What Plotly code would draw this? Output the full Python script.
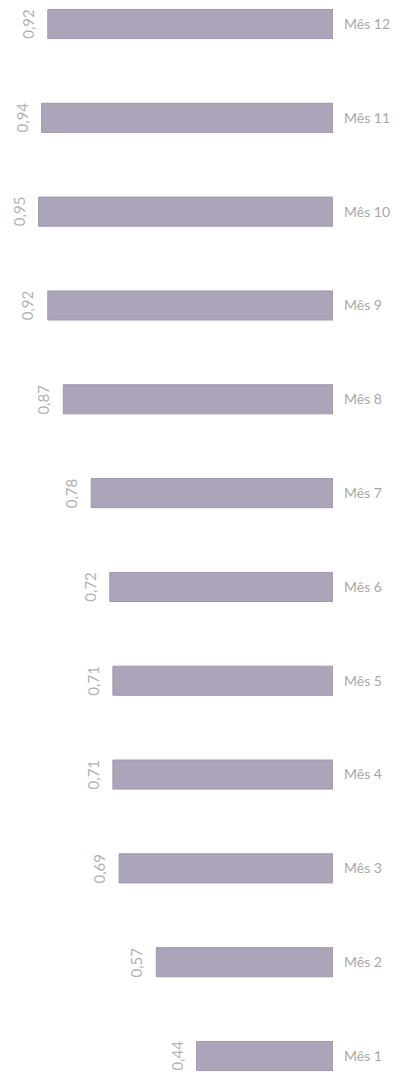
import plotly.graph_objects as go

# Monthly index values
months = ["Mês 1", "Mês 2", "Mês 3", "Mês 4", "Mês 5", "Mês 6",
          "Mês 7", "Mês 8", "Mês 9", "Mês 10", "Mês 11", "Mês 12"]
values = [0.44, 0.57, 0.69, 0.71, 0.71, 0.72, 0.78, 0.87, 0.92, 0.95, 0.94, 0.92]
value_labels = [f"{v:.2f}".replace(".", ",") for v in values]

BAR_COLOR = "#aca4b9"
TEXT_COLOR = "#a8a8a8"
FONT = "Lato, 'Open Sans', sans-serif"

fig = go.Figure()
fig.add_trace(go.Bar(
    y=months,
    x=values,
    orientation="h",
    marker=dict(color=BAR_COLOR, line=dict(color="#a098ad", width=1)),
    width=0.31,
    hoverinfo="skip",
))

# Rotated value labels just beyond the end of each bar
for m, v, lab in zip(months, values, value_labels):
    fig.add_annotation(
        x=v, y=m, text=lab, showarrow=False, textangle=-90,
        xanchor="center", yanchor="middle", xshift=-20,
        font=dict(family=FONT, size=15, color="#b2b2b2"),
    )

fig.update_layout(
    width=407, height=1082,
    margin=dict(l=23, r=74, t=0, b=0),
    paper_bgcolor="white", plot_bgcolor="white",
    showlegend=False,
    xaxis=dict(range=[1, 0], visible=False, fixedrange=True),
    yaxis=dict(
        type="category", categoryorder="array", categoryarray=months,
        range=[-0.277, 11.256], side="right", showgrid=False,
        zeroline=False, showline=False, ticks="",
        ticklabelstandoff=10,
        tickfont=dict(family=FONT, size=14, color=TEXT_COLOR),
    ),
)

fig.write_html("out.html")
